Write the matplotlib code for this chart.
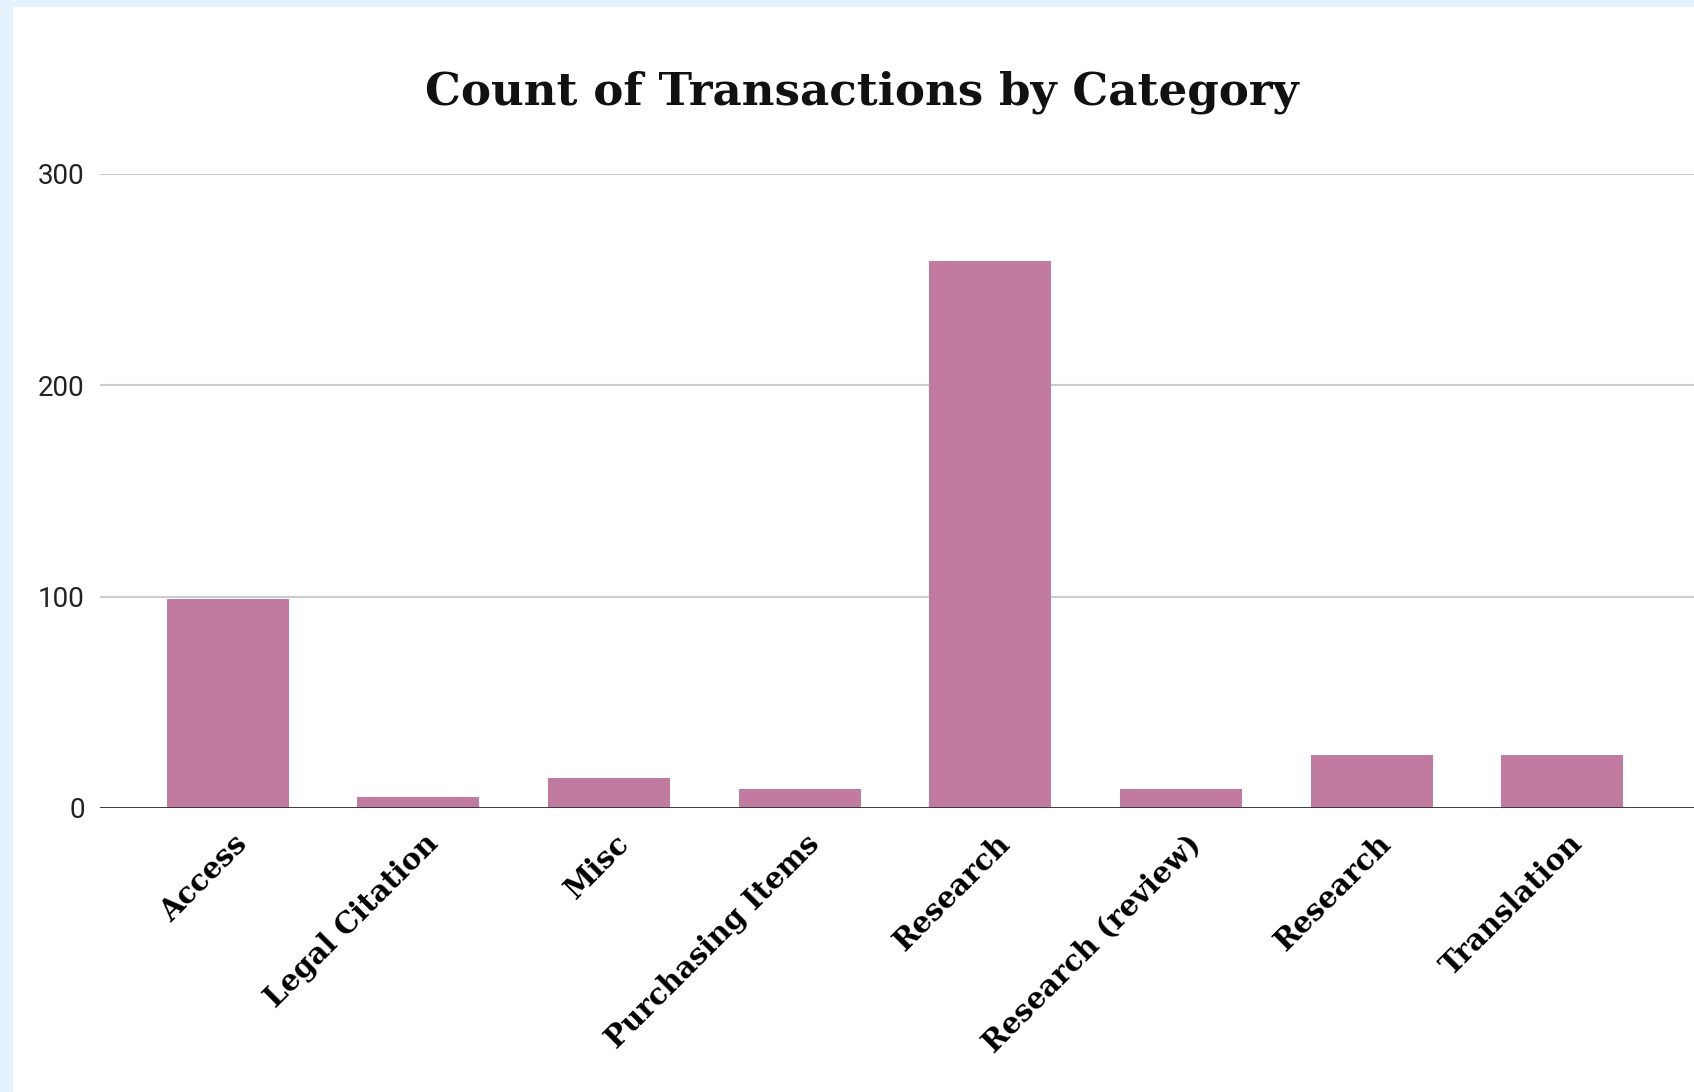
import matplotlib
matplotlib.use("Agg")
import matplotlib.pyplot as plt
import matplotlib.transforms as mtransforms
from matplotlib.patches import Rectangle

categories = ["Access", "Legal Citation", "Misc", "Purchasing Items", "Research",
              "Research (review)", "Research", "Translation"]
counts = [99, 5, 14, 9, 259, 9, 25, 25]
y_ticks = [0, 100, 200, 300]

fig = plt.figure(figsize=(16.94, 10.92), dpi=100, facecolor="#E3F2FD")
# white card with light blue strip on left and top
fig.patches.append(Rectangle((13 / 1694, 0), 1, 1 - 7 / 1092, transform=fig.transFigure,
                             facecolor="white", edgecolor="none", zorder=-10))

ax = fig.add_axes([100 / 1694, 1 - 808 / 1092, 1 - 100 / 1694, (808 - 174) / 1092])
ax.set_facecolor("none")

x = list(range(len(categories)))
ax.bar(x, counts, width=0.64, color="#C27BA0", zorder=3)

ax.set_xlim(-0.67, 7.69)
ax.set_ylim(0, 300)
ax.set_yticks(y_ticks)
ax.set_yticklabels([str(v) for v in y_ticks], fontfamily="Roboto", fontsize=20, color="#222222")
ax.yaxis.grid(True, color="#CCCCCC", linewidth=1.5, zorder=0)
ax.axhline(0, color="#333333", linewidth=2, zorder=4)
ax.tick_params(axis="y", length=0, pad=11)

ax.set_xticks(x)
ax.set_xticklabels(categories, rotation=45, ha="right", rotation_mode="anchor",
                   fontfamily="DejaVu Serif", fontweight="bold", fontsize=21)
ax.tick_params(axis="x", length=0, pad=15)
shift = mtransforms.ScaledTranslation(5 / 100, 0, fig.dpi_scale_trans)
for lbl in ax.get_xticklabels():
    lbl.set_transform(lbl.get_transform() + shift)

for s in ax.spines.values():
    s.set_visible(False)

fig.text(862 / 1694, 1 - 92 / 1092, "Count of Transactions by Category", ha="center", va="center",
         fontfamily="DejaVu Serif", fontweight="bold", fontsize=32.5, color="#111111")

fig.savefig("out.png", dpi=100, facecolor=fig.get_facecolor())
